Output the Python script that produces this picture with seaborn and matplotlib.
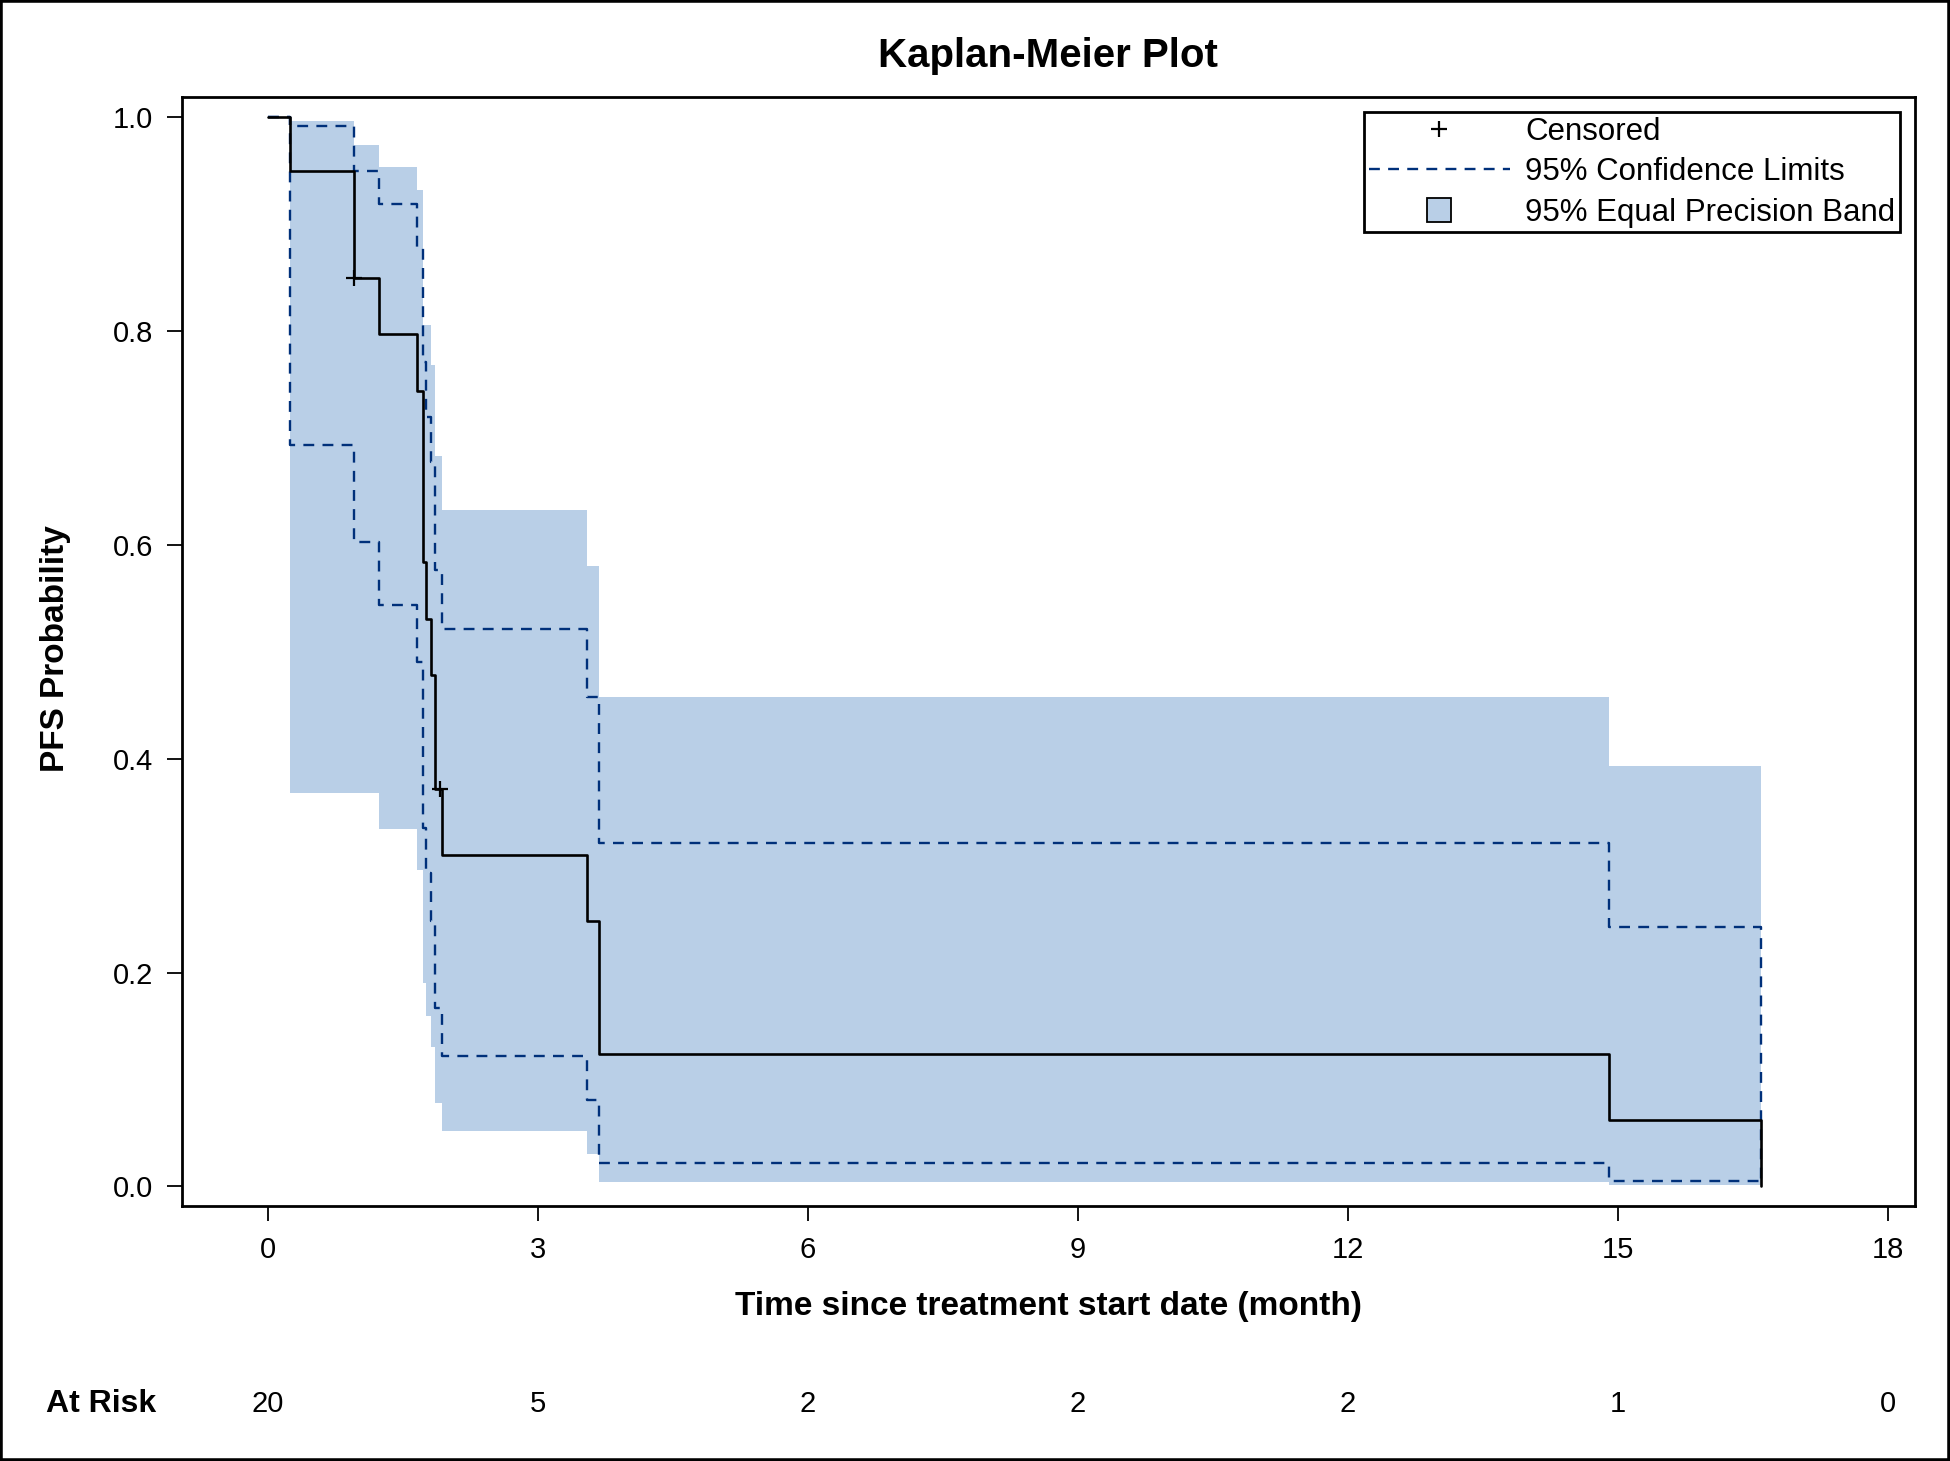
import matplotlib
matplotlib.use('Agg')
import matplotlib.pyplot as plt
import seaborn as sns
from matplotlib.lines import Line2D
from matplotlib.patches import Rectangle
from matplotlib import transforms

# Kaplan-Meier estimate
km_time = [0, 0.25, 0.96, 1.24, 1.66, 1.72, 1.755, 1.81, 1.86, 1.94, 3.55, 3.68, 14.90, 16.59]
km_surv = [1.0, 0.95, 0.85, 0.797, 0.744, 0.584, 0.531, 0.478, 0.372, 0.310, 0.248, 0.124, 0.062, 0.0]

# pointwise 95% confidence limits
ci_time = [0, 0.25, 0.96, 1.24, 1.66, 1.72, 1.755, 1.81, 1.86, 1.94, 3.55, 3.68, 14.90, 16.59]
ci_upper = [1.0, 0.992, 0.95, 0.919, 0.879, 0.771, 0.72, 0.678, 0.577, 0.521, 0.458, 0.321, 0.243, 0.005]
ci_lower = [1.0, 0.694, 0.603, 0.544, 0.491, 0.335, 0.293, 0.248, 0.167, 0.122, 0.081, 0.022, 0.005, 0.005]

# 95% equal precision band
band_time = [0.25, 0.96, 1.24, 1.66, 1.72, 1.755, 1.81, 1.86, 1.94, 3.55, 3.68, 14.90, 16.59]
band_upper = [0.997, 0.974, 0.954, 0.932, 0.806, 0.806, 0.768, 0.683, 0.633, 0.58, 0.458, 0.393, 0.393]
band_lower = [0.368, 0.368, 0.334, 0.296, 0.190, 0.159, 0.130, 0.078, 0.052, 0.030, 0.0044, 0.0013, 0.0013]

# censored observations
cens_time = [0.96, 1.91]
cens_surv = [0.85, 0.372]

# number at risk row
risk_times = [0, 3, 6, 9, 12, 15, 18]
risk_counts = [20, 5, 2, 2, 2, 1, 0]

band_color = '#B9CFE7'
ci_color = '#00307A'
ci_dash = (0, (4.6, 3.5))

sns.set_style('ticks')
plt.rcParams['font.family'] = ['Liberation Sans', 'DejaVu Sans']
plt.rcParams['text.color'] = 'black'
plt.rcParams['axes.labelcolor'] = 'black'
plt.rcParams['xtick.color'] = 'black'
plt.rcParams['ytick.color'] = 'black'

fig = plt.figure(figsize=(19.5, 14.61), dpi=100)
ax = fig.add_axes([0.09318, 0.17474, 0.8889, 0.75866])

# band first so the lines sit on top
ax.fill_between(band_time, band_lower, band_upper, step='post',
                color=band_color, linewidth=0, zorder=1)

sns.lineplot(x=ci_time, y=ci_upper, drawstyle='steps-post', color=ci_color,
             linestyle=ci_dash, linewidth=1.7, estimator=None, sort=False, ax=ax, zorder=2)
sns.lineplot(x=ci_time, y=ci_lower, drawstyle='steps-post', color=ci_color,
             linestyle=ci_dash, linewidth=1.7, estimator=None, sort=False, ax=ax, zorder=2)
sns.lineplot(x=km_time, y=km_surv, drawstyle='steps-post', color='black',
             linewidth=1.9, estimator=None, sort=False, ax=ax, zorder=3)
ax.plot(cens_time, cens_surv, linestyle='none', marker='+', color='black',
        markersize=12, markeredgewidth=1.6, zorder=4)

ax.set_xlim(-0.956, 18.30)
ax.set_ylim(-0.018, 1.0188)
ax.set_xticks(risk_times)
ax.set_yticks([0.0, 0.2, 0.4, 0.6, 0.8, 1.0])
ax.set_yticklabels(['0.0', '0.2', '0.4', '0.6', '0.8', '1.0'])
ax.tick_params(axis='both', direction='out', length=11, width=1.3, labelsize=21,
               colors='black')
ax.tick_params(axis='x', pad=11)
ax.tick_params(axis='y', pad=9.5)
for s in ax.spines.values():
    s.set_visible(True)
    s.set_linewidth(2.0)
    s.set_color('black')
ax.set_xlabel('')
ax.set_ylabel('')

# titles and axis labels
fig.text(0.5376, 1 - 56 / 1461, 'Kaplan-Meier Plot', ha='center', va='center',
         fontsize=29, fontweight='bold', color='black')
fig.text(0.5376, 1 - 1306 / 1461, 'Time since treatment start date (month)',
         ha='center', va='center', fontsize=24, fontweight='bold', color='black')
fig.text(0.0287, 0.5558, 'PFS Probability', ha='center', va='center', rotation=90,
         fontsize=24, fontweight='bold', color='black')

# at risk row
trans = transforms.blended_transform_factory(ax.transData, fig.transFigure)
risk_y = 1 - 1404 / 1461
for t, n in zip(risk_times, risk_counts):
    ax.text(t, risk_y, str(n), transform=trans, ha='center', va='center',
            fontsize=21, color='black')
fig.text(0.0236, risk_y, 'At Risk', ha='left', va='center', fontsize=23,
         fontweight='bold', color='black')

# legend
h_cens = Line2D([], [], color='black', marker='+', linestyle='none',
                markersize=12, markeredgewidth=1.6)
h_ci = Line2D([], [], color=ci_color, linestyle=ci_dash, linewidth=1.7)
h_band = Line2D([], [], marker='s', linestyle='none', markersize=17,
                markerfacecolor=band_color, markeredgecolor='black', markeredgewidth=1.3)
leg = ax.legend([h_cens, h_ci, h_band],
                ['Censored', '95% Confidence Limits', '95% Equal Precision Band'],
                loc='upper right', bbox_to_anchor=(0.9913, 0.9865), borderaxespad=0,
                frameon=True, fancybox=False, framealpha=1, edgecolor='black',
                fontsize=22.5, handlelength=4.5, handletextpad=0.5,
                borderpad=0.15, labelspacing=0.33)
leg.get_frame().set_linewidth(2.0)
for txt in leg.get_texts():
    txt.set_color('black')

# outer border of the graph
fig.patches.append(Rectangle((0, 0), 1, 1, transform=fig.transFigure, fill=False,
                             edgecolor='black', linewidth=4, zorder=10))

fig.savefig('out.png', dpi=100, facecolor='white')
